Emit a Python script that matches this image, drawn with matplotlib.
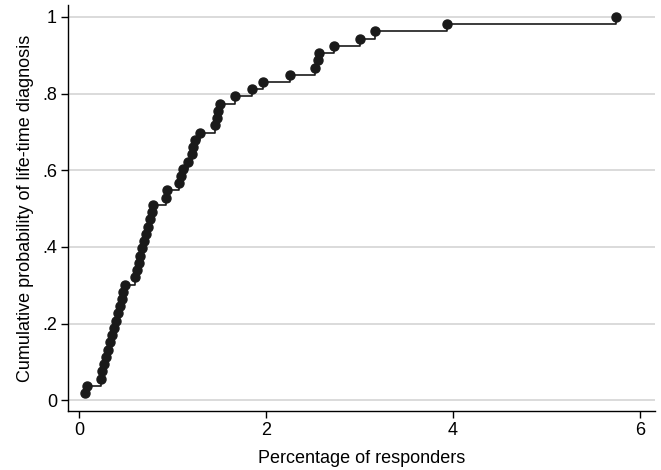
import numpy as np
import matplotlib
matplotlib.use("Agg")
import matplotlib.pyplot as plt

plt.rcParams['font.family'] = ['Liberation Sans', 'DejaVu Sans']

# percentage of responders, sorted (one value per rank)
pct = [0.065, 0.09, 0.23, 0.25, 0.27, 0.29, 0.31, 0.33, 0.35, 0.375,
       0.395, 0.415, 0.44, 0.455, 0.47, 0.49, 0.60, 0.62, 0.64, 0.655,
       0.675, 0.695, 0.715, 0.74, 0.76, 0.78, 0.795, 0.93, 0.94, 1.07,
       1.09, 1.115, 1.17, 1.205, 1.22, 1.24, 1.29, 1.455, 1.48, 1.49,
       1.51, 1.67, 1.85, 1.97, 2.26, 2.52, 2.56, 2.57, 2.73, 3.01,
       3.17, 3.94, 5.74]
n = len(pct)
cumprob = [(i + 1) / n for i in range(n)]

yticks = [0, 0.2, 0.4, 0.6, 0.8, 1.0]
ytick_labels = ["0", ".2", ".4", ".6", ".8", "1"]
xticks = [0, 2, 4, 6]

fig = plt.figure(figsize=(6.61, 4.70), dpi=100)
ax = fig.add_axes([68 / 661, (470 - 411) / 470, (655 - 68) / 661, (411 - 5) / 470])

ax.step(pct, cumprob, where='post', color='#1a1a1a', lw=1.2, zorder=3)
ax.plot(pct, cumprob, 'o', color='#1a1a1a', ms=6.5, zorder=4)

ax.set_xlim(-0.118, 6.16)
ax.set_ylim(-0.028, 1.031)
ax.set_yticks(yticks)
ax.set_yticklabels(ytick_labels)
ax.set_xticks(xticks)
ax.grid(axis='y', color='#d4d4d4', lw=1.2, zorder=0)
ax.set_axisbelow(True)

for s in ['top', 'right']:
    ax.spines[s].set_visible(False)
for s in ['left', 'bottom']:
    ax.spines[s].set_color('black')
    ax.spines[s].set_linewidth(1.0)

ax.tick_params(axis='both', direction='out', length=5, width=1.0, labelsize=13, colors='black')
ax.tick_params(axis='y', pad=3)
ax.tick_params(axis='x', pad=3)

ax.set_xlabel("Percentage of responders", fontsize=13, labelpad=8)
ax.set_ylabel("Cumulative probability of life-time diagnosis", fontsize=13, labelpad=6)

fig.savefig("out.png", dpi=100)
